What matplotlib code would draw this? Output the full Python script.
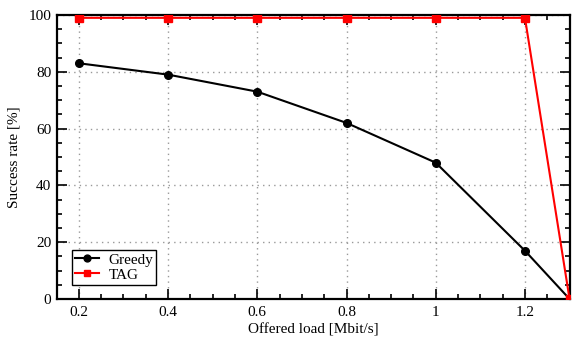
import numpy as np
import matplotlib.pyplot as plt
from matplotlib.ticker import MultipleLocator

load = [0.2, 0.4, 0.6, 0.8, 1.0, 1.2, 1.3]
greedy = [83, 79, 73, 62, 48, 17, 0]
tag = [99, 99, 99, 99, 99, 99, 0]
xticks = [0.2, 0.4, 0.6, 0.8, 1.0, 1.2]
xticklabels = ['0.2', '0.4', '0.6', '0.8', '1', '1.2']

plt.rcParams['font.family'] = ['Liberation Serif', 'DejaVu Serif']
plt.rcParams['font.size'] = 11

fig = plt.figure(figsize=(5.72, 3.4), dpi=100)
ax = fig.add_axes([0.0997, 0.1206, 0.8968, 0.8353])

ax.plot(load, greedy, color='black', lw=1.5, marker='o', ms=5.5, label='Greedy', clip_on=True, zorder=3)
ax.plot(load, tag, color='red', lw=1.5, marker='s', ms=5.5, label='TAG', clip_on=True, zorder=4)

ax.set_xlim(0.151, 1.301)
ax.set_ylim(0, 100)
ax.set_xticks(xticks)
ax.set_xticklabels(xticklabels)
ax.set_yticks([0, 20, 40, 60, 80, 100])
ax.xaxis.set_minor_locator(MultipleLocator(0.05))
ax.yaxis.set_minor_locator(MultipleLocator(5))
ax.tick_params(which='both', direction='in', top=True, right=True, labelsize=11, width=1.2, color='black')
ax.tick_params(which='major', length=7)
ax.tick_params(which='minor', length=3.6)
ax.tick_params(axis='x', which='major', pad=5)
ax.tick_params(axis='y', which='major', pad=4)
for s in ax.spines.values():
    s.set_linewidth(1.6)

ax.grid(True, which='major', color='#999999', linestyle=(0, (1, 3)), lw=1.0)
ax.set_xlabel('Offered load [Mbit/s]', fontsize=11, labelpad=3)
ax.set_ylabel('Success rate [%]', fontsize=11, labelpad=6)

leg = ax.legend(loc='lower left', bbox_to_anchor=(0.029, 0.05), fancybox=False, framealpha=1,
                edgecolor='black', borderpad=0.2, labelspacing=0.1, handlelength=1.6,
                handletextpad=0.6, borderaxespad=0, fontsize=11, markerscale=0.9)
leg.get_frame().set_linewidth(1.0)

fig.savefig('out.png', dpi=100)
